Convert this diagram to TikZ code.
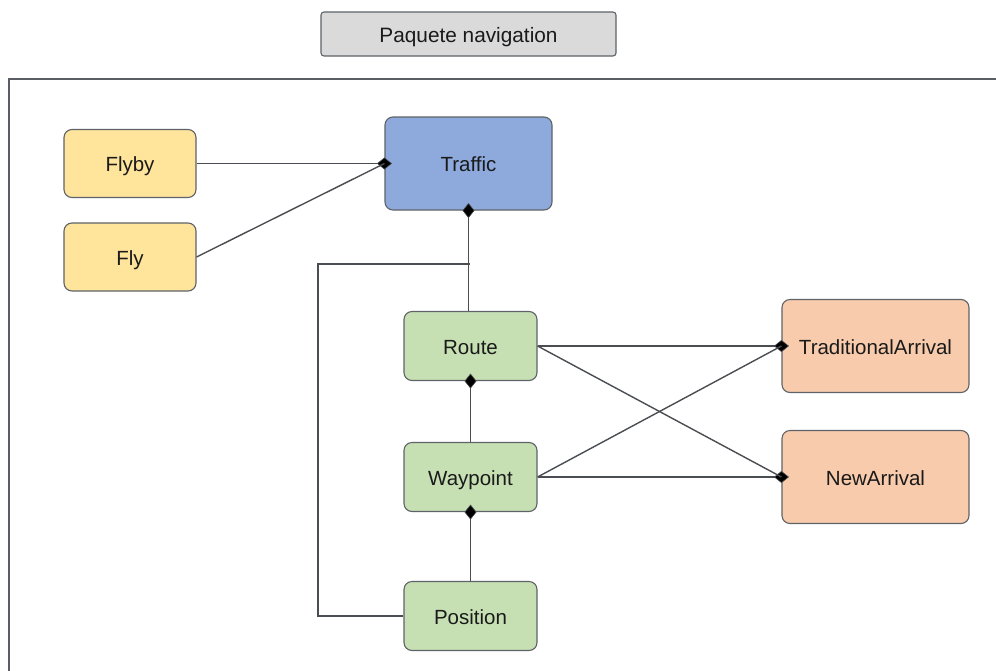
\documentclass[tikz,border=0pt]{standalone}
\usepackage{fontspec}
\setmainfont{Liberation Sans}
\usetikzlibrary{arrows.meta}

\definecolor{edgegray}{HTML}{4A4D52}
\definecolor{boxgray}{HTML}{5F6368}
\definecolor{framegray}{HTML}{5A5D64}
\definecolor{titlefill}{HTML}{DADADA}
\definecolor{yellowfill}{HTML}{FFE49C}
\definecolor{bluefill}{HTML}{8EAADC}
\definecolor{greenfill}{HTML}{C6E0B4}
\definecolor{orangefill}{HTML}{F7CBAC}
\definecolor{textdark}{HTML}{1A1A1A}

\tikzset{
  box/.style={draw=boxgray, line width=1.1pt, rounded corners=8pt,
    inner sep=0pt, text=textdark, text height=20pt, text depth=4pt,
    font=\fontsize{20.5}{24}\selectfont},
  flybox/.style={box, fill=yellowfill, minimum width=132pt, minimum height=68pt},
  trafficbox/.style={box, fill=bluefill, minimum width=167pt, minimum height=93pt},
  greenbox/.style={box, fill=greenfill, minimum width=133pt, minimum height=69pt},
  arrivalbox/.style={box, fill=orangefill, minimum width=187pt, minimum height=93pt},
  titlebox/.style={draw=boxgray, line width=1.1pt, rounded corners=3pt, fill=titlefill,
    minimum width=295pt, minimum height=44pt, inner sep=0pt, text=textdark,
    text height=20pt, text depth=4pt, font=\fontsize{20.8}{24}\selectfont},
  link/.style={draw=edgegray, line width=1.4pt},
  comp/.style={link, {Diamond[length=15pt,width=12pt,fill=black,line width=0.6pt]}-,
    shorten <=-7.5pt}
}

\begin{document}
\begin{tikzpicture}[x=1pt,y=-1pt]
  \useasboundingbox (0,0) rectangle (996,670);
  \fill[white] (0,0) rectangle (996,670);

  % package frame (continues past the lower and right edges)
  \draw[framegray, line width=1.2pt] (996,79) -- (9,79) -- (9,671);

  \node[titlebox] (title) at (468.5,34) {Paquete navigation};

  % classes
  \node[flybox] (flyby) at (130,163.5) {Flyby};
  \node[flybox] (fly) at (130,257) {Fly};
  \node[trafficbox] (traffic) at (468.5,163.5) {Traffic};
  \node[greenbox] (route) at (470.5,346) {Route};
  \node[greenbox] (waypoint) at (470.5,477) {Waypoint};
  \node[greenbox] (position) at (470.5,616) {Position};
  \node[arrivalbox] (trad) at (875.5,346) {TraditionalArrival};
  \node[arrivalbox] (newarr) at (875.5,477) {NewArrival};

  \coordinate (bend) at (318,264);
  \coordinate (join) at (469.5,264);

  % compositions into Traffic
  \draw[comp] (traffic.west) -- (flyby.east);
  \draw[link] (fly.east) -- (traffic.west);
  \draw[comp] (traffic.south) -- (route.north -| traffic.south);
  \draw[link] (position.west) -| (bend) -- (join);

  % route chain
  \draw[comp] (route.south) -- (waypoint.north);
  \draw[comp] (waypoint.south) -- (position.north);

  % arrivals
  \draw[comp] (trad.west) -- (route.east);
  \draw[link] (waypoint.east) -- (trad.west);
  \draw[comp] (newarr.west) -- (waypoint.east);
  \draw[link] (route.east) -- (newarr.west);
\end{tikzpicture}
\end{document}
